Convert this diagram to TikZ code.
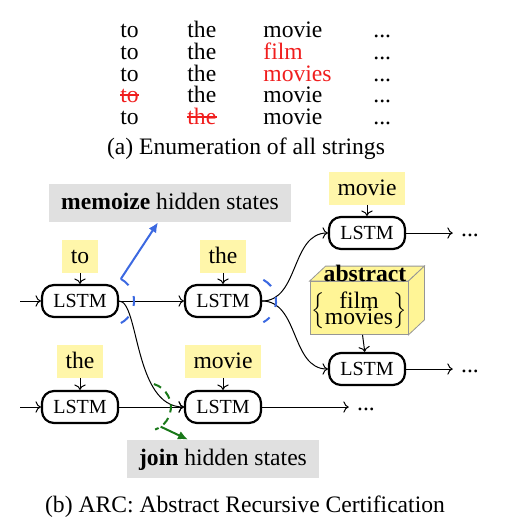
\documentclass[tikz,border=0pt]{standalone}
\usepackage{fontspec}
\setmainfont{Liberation Serif}
\usetikzlibrary{arrows.meta}

\definecolor{motjaune}{RGB}{255,246,170}
\definecolor{absjaune}{RGB}{255,245,150}
\definecolor{bordgris}{RGB}{150,150,150}
\definecolor{fondgris}{RGB}{224,224,224}
\definecolor{memobleu}{RGB}{60,105,225}
\definecolor{joinvert}{RGB}{25,120,25}
\definecolor{barrerouge}{RGB}{240,30,30}

\begin{document}
\begin{tikzpicture}[x=0.5pt,y=-0.5pt,font=\fontsize{11.8}{14}\selectfont,
		lstm/.style={draw,line width=1.1pt,rounded corners=6pt,minimum width=38pt,minimum height=16pt,inner sep=0pt,font=\fontsize{10}{12}\selectfont},
		mot/.style={fill=motjaune,inner xsep=4.5pt,inner ysep=3.75pt,text height=8pt,text depth=1pt},
		etat/.style={fill=fondgris,inner xsep=6pt,minimum height=19pt,text height=8.5pt,text depth=2.5pt},
		cell/.style={anchor=base west,inner sep=0pt},
		points/.style={anchor=base,inner sep=0pt,inner xsep=4pt},
		fl/.style={->,line width=0.5pt},
		memo/.style={memobleu,line width=1pt,dash pattern=on 5pt off 6pt},
		joint/.style={joinvert,line width=1pt,dash pattern=on 4pt off 3pt}]
	
	\useasboundingbox (0,0) rectangle (517,531);
	
	% Tableau des chaines
	\node[cell] (a1) at (120,37) {to};
	\node[cell] (b1) at (187,37) {the};
	\node[cell] (c1) at (263,37) {movie};
	\node[cell] (d1) at (373,37) {...};
	\node[cell] (a2) at (120,59) {to};
	\node[cell] (b2) at (187,59) {the};
	\node[cell] (c2) at (263,59) {\color{barrerouge}film};
	\node[cell] (d2) at (373,59) {...};
	\node[cell] (a3) at (120,81) {to};
	\node[cell] (b3) at (187,81) {the};
	\node[cell] (c3) at (263,81) {\color{barrerouge}movies};
	\node[cell] (d3) at (373,81) {...};
	\node[cell] (a4) at (120,102) {\color{barrerouge}to};
	\node[cell] (b4) at (187,102) {the};
	\node[cell] (c4) at (263,102) {movie};
	\node[cell] (d4) at (373,102) {...};
	\node[cell] (a5) at (120,124) {to};
	\node[cell] (b5) at (187,124) {\color{barrerouge}the};
	\node[cell] (c5) at (263,124) {movie};
	\node[cell] (d5) at (373,124) {...};
	
	% Mots barres
	\draw[barrerouge,line width=0.6pt] ([yshift=3.5pt]a4.base west) -- ([yshift=3.5pt]a4.base east);
	\draw[barrerouge,line width=0.6pt] ([yshift=3.5pt]b5.base west) -- ([yshift=3.5pt]b5.base east);
	
	\node[anchor=base] (capa) at (246,154) {(a) Enumeration of all strings};
	
	% Cellules LSTM
	\node[lstm] (l1) at (80,301) {LSTM};
	\node[lstm] (l2) at (223,301) {LSTM};
	\node[lstm] (l3) at (80,407) {LSTM};
	\node[lstm] (l4) at (223,407) {LSTM};
	\node[lstm] (l5) at (367,233) {LSTM};
	\node[lstm] (l6) at (367,369) {LSTM};
	
	% Mots en entree
	\node[mot] (wto) at (80,256) {to};
	\node[mot] (wthe) at (223,256) {the};
	\node[mot] (wthe2) at (80,361) {the};
	\node[mot] (wmovie2) at (223,361) {movie};
	\node[mot] (wmovie) at (367,188) {movie};
	
	% Boite abstract
	\node[draw=bordgris,fill=absjaune,minimum width=49pt,minimum height=26.5pt] (abs) at (359,308) {};
	\draw[bordgris,fill=absjaune] (abs.north west) -- ++(16,-15) -- ([shift={(16,-15)}]abs.north east) -- (abs.north east) -- cycle;
	\draw[bordgris,fill=absjaune] (abs.north east) -- ([shift={(16,-15)}]abs.north east) -- ([shift={(16,-15)}]abs.south east) -- (abs.south east) -- cycle;
	\node[inner sep=0pt] (abslbl) at (365,273) {\textbf{abstract}};
	\node[inner sep=0pt] (absset) at (359,311) {$\Big\{$\begin{tabular}{@{}c@{}}film\\[-6pt]movies\end{tabular}$\Big\}$};
	
	% Etats caches
	\node[etat] (memo) at (170,203) {\textbf{memoize} hidden states};
	\node[etat] (join) at (223,459) {\textbf{join} hidden states};
	
	% Suites
	\node[points] (p5) at (470,236) {...};
	\node[points] (p6) at (470,372) {...};
	\node[points] (p4) at (366,410) {...};
	\coordinate (inA) at (20,301);
	\coordinate (inB) at (20,407);
	
	% Fleches
	\draw[fl] (inA) -- (l1);
	\draw[fl] (inB) -- (l3);
	\draw[fl] (l1) -- (l2);
	\draw[fl] (l3) -- (l4);
	\draw[fl] (l1.east) to[out=0,in=180,out distance=10pt,in distance=25pt] (l4.west);
	\draw[fl] (l2.east) to[out=0,in=180] (l5.west);
	\draw[fl] (l2.east) to[out=0,in=180] (l6.west);
	\draw[fl] (l5) -- (l5 -| p5.west);
	\draw[fl] (l6) -- (l6 -| p6.west);
	\draw[fl] (l4) -- (l4 -| p4.west);
	\draw[fl] (wto) -- (l1);
	\draw[fl] (wthe) -- (l2);
	\draw[fl] (wthe2) -- (l3);
	\draw[fl] (wmovie2) -- (l4);
	\draw[fl] (wmovie) -- (l5);
	\draw[fl] (abs) -- (l6);
	
	% Coupures en pointilles
	\draw[memo] (l1.east) ++(-10,0) ++(-62:25) coordinate (memoA) arc[start angle=-62,end angle=62,radius=25];
	\draw[memo] (l2.east) ++(-10,0) ++(-62:24) arc[start angle=-62,end angle=62,radius=24];
	\draw[joint] (l4.west) ++(-37,0) ++(-73:24) arc[start angle=-73,end angle=55,radius=24] coordinate (joinA) arc[start angle=55,end angle=70,radius=24];
	
	\draw[memobleu,line width=1pt,-{Latex[length=5pt,width=4.5pt]}] (memoA) -- ([xshift=-6pt]memo.south);
	\draw[joinvert,line width=1pt,-{Latex[length=5pt,width=4.5pt]}] (joinA) -- ([xshift=-17.5pt]join.north);
	
	\node[anchor=base] (capb) at (245,512) {(b) ARC: Abstract Recursive Certification};
	
\end{tikzpicture}
\end{document}
